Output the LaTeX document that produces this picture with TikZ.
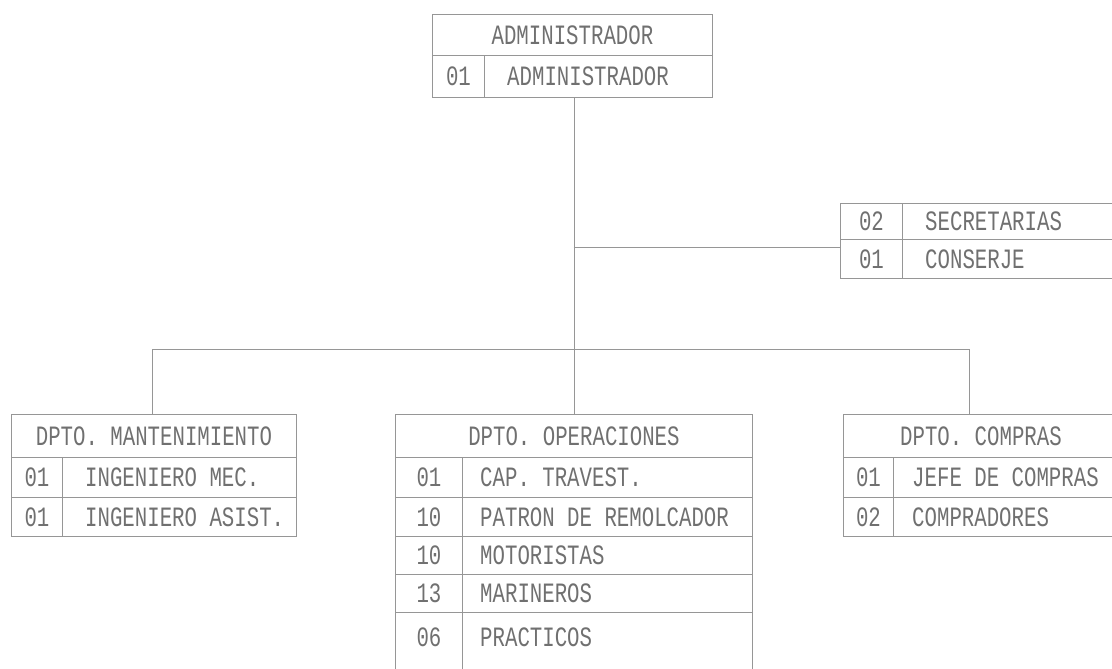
\documentclass[tikz,border=0pt]{standalone}
\usepackage{fontspec}
\newfontfamily\dotfont{Liberation Mono}[FakeStretch=0.74]
\definecolor{ink}{RGB}{112,112,112}
\definecolor{rulec}{RGB}{150,150,150}
\begin{document}
\begin{tikzpicture}[x=1pt,y=-1pt,
  cell/.style={draw=rulec, line width=0.9pt, inner sep=0pt, anchor=north west},
  lbl/.style={text=ink, inner sep=0pt, font=\dotfont\fontsize{28pt}{32pt}\selectfont},
  link/.style={draw=rulec, line width=0.9pt}]
\useasboundingbox (0,0) rectangle (1112,669);

% Administrador
\node[cell, minimum width=280pt, minimum height=41pt] (adm) at (432,14) {};
\node[cell, minimum width=52pt, minimum height=42pt] (admn) at (432,55) {};
\node[cell, minimum width=228pt, minimum height=42pt] (admr) at (484,55) {};
\node[lbl] at (adm.center) {ADMINISTRADOR};
\node[lbl] at (admn.center) {01};
\node[lbl, anchor=west] at ([xshift=23pt]admr.west) {ADMINISTRADOR};

% Secretarias / Conserje
\node[cell, minimum width=62pt, minimum height=36pt] (sec1n) at (840,203) {};
\node[cell, minimum width=215pt, minimum height=36pt] (sec1) at (902,203) {};
\node[cell, minimum width=62pt, minimum height=39pt] (sec2n) at (840,239) {};
\node[cell, minimum width=215pt, minimum height=39pt] (sec2) at (902,239) {};
\node[lbl] at (sec1n.center) {02};
\node[lbl, anchor=west] at ([xshift=23pt]sec1.west) {SECRETARIAS};
\node[lbl] at (sec2n.center) {01};
\node[lbl, anchor=west] at ([xshift=23pt]sec2.west) {CONSERJE};

% Mantenimiento
\node[cell, minimum width=285pt, minimum height=43pt] (man) at (11,414) {};
\node[cell, minimum width=51pt, minimum height=40pt] (man1n) at (11,457) {};
\node[cell, minimum width=234pt, minimum height=40pt] (man1) at (62,457) {};
\node[cell, minimum width=51pt, minimum height=39pt] (man2n) at (11,497) {};
\node[cell, minimum width=234pt, minimum height=39pt] (man2) at (62,497) {};
\node[lbl] at (man.center) {DPTO. MANTENIMIENTO};
\node[lbl] at (man1n.center) {01};
\node[lbl, anchor=west] at ([xshift=23pt]man1.west) {INGENIERO MEC.};
\node[lbl] at (man2n.center) {01};
\node[lbl, anchor=west] at ([xshift=23pt]man2.west) {INGENIERO ASIST.};

% Operaciones
\node[cell, minimum width=357pt, minimum height=43pt] (ops) at (395,414) {};
\node[lbl] at (ops.center) {DPTO. OPERACIONES};
\node[cell, minimum width=67pt, minimum height=40pt] (opsn0) at (395,457) {};
\node[cell, minimum width=290pt, minimum height=40pt] (opsr0) at (462,457) {};
\node[cell, minimum width=67pt, minimum height=39pt] (opsn1) at (395,497) {};
\node[cell, minimum width=290pt, minimum height=39pt] (opsr1) at (462,497) {};
\node[cell, minimum width=67pt, minimum height=38pt] (opsn2) at (395,536) {};
\node[cell, minimum width=290pt, minimum height=38pt] (opsr2) at (462,536) {};
\node[cell, minimum width=67pt, minimum height=38pt] (opsn3) at (395,574) {};
\node[cell, minimum width=290pt, minimum height=38pt] (opsr3) at (462,574) {};
\node[cell, minimum width=67pt, minimum height=62pt] (opsn4) at (395,612) {};
\node[cell, minimum width=290pt, minimum height=62pt] (opsr4) at (462,612) {};
\node[lbl] at (opsn0.center) {01};
\node[lbl, anchor=west] at ([xshift=18pt]opsr0.west) {CAP. TRAVEST.};
\node[lbl] at (opsn1.center) {10};
\node[lbl, anchor=west] at ([xshift=18pt]opsr1.west) {PATRON DE REMOLCADOR};
\node[lbl] at (opsn2.center) {10};
\node[lbl, anchor=west] at ([xshift=18pt]opsr2.west) {MOTORISTAS};
\node[lbl] at (opsn3.center) {13};
\node[lbl, anchor=west] at ([xshift=18pt]opsr3.west) {MARINEROS};
\node[lbl] at ([yshift=6pt]opsn4.center) {06};
\node[lbl, anchor=west] at ([xshift=18pt,yshift=6pt]opsr4.west) {PRACTICOS};

% Compras
\node[cell, minimum width=275pt, minimum height=43pt] (com) at (843,414) {};
\node[cell, minimum width=50pt, minimum height=40pt] (com1n) at (843,457) {};
\node[cell, minimum width=225pt, minimum height=40pt] (com1) at (893,457) {};
\node[cell, minimum width=50pt, minimum height=39pt] (com2n) at (843,497) {};
\node[cell, minimum width=225pt, minimum height=39pt] (com2) at (893,497) {};
\node[lbl] at (com.center) {DPTO. COMPRAS};
\node[lbl] at (com1n.center) {01};
\node[lbl, anchor=west] at ([xshift=19pt]com1.west) {JEFE DE COMPRAS};
\node[lbl] at (com2n.center) {02};
\node[lbl, anchor=west] at ([xshift=19pt]com2.west) {COMPRADORES};

% Connectors
\coordinate (br) at (573.5,247);
\coordinate (bl) at (152,349);
\coordinate (brr) at (969,349);
\draw[link] (admr.south -| ops.north) -- (ops.north);
\draw[link] (br) -- (br -| sec2n.west);
\draw[link] (man.north -| bl) -- (bl) -- (brr) -- (com.north -| brr);
\end{tikzpicture}
\end{document}
